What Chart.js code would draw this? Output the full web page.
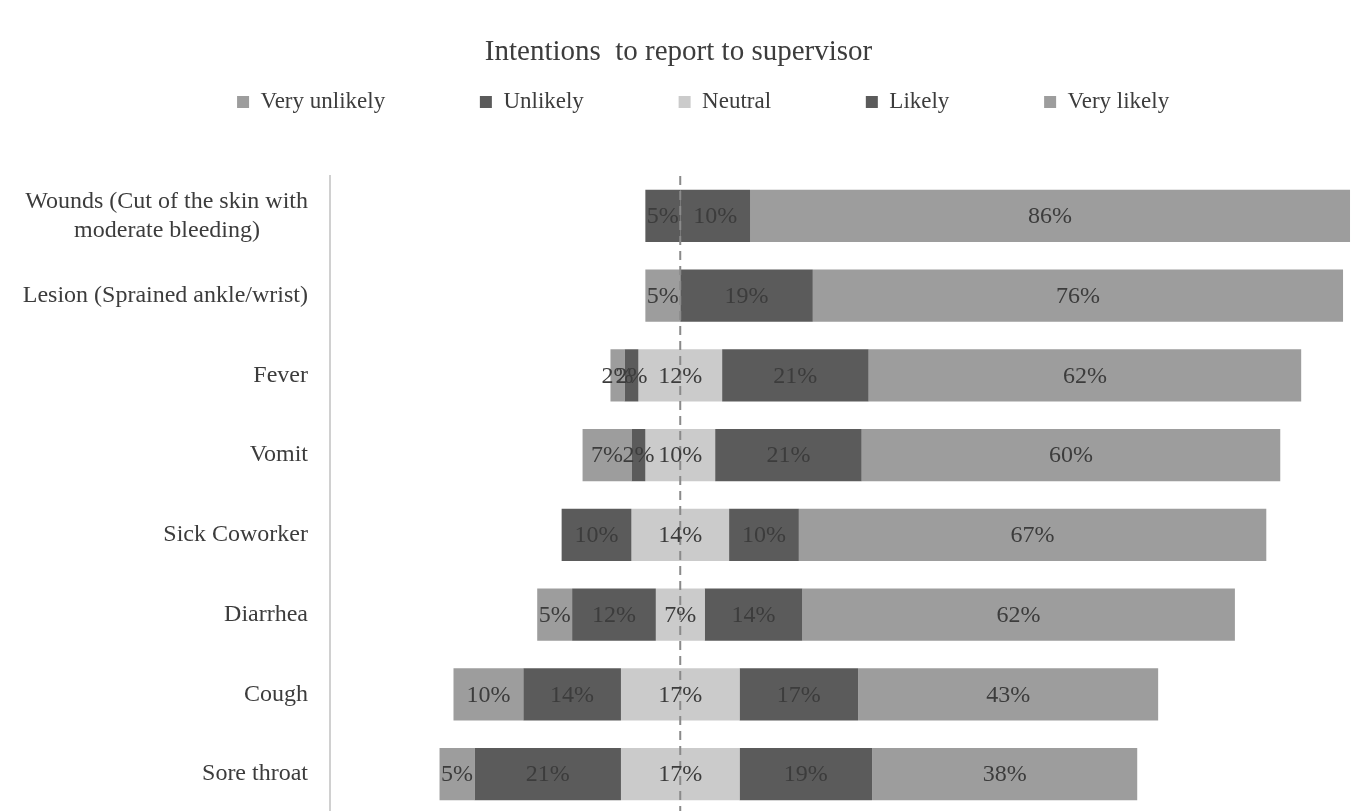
<!DOCTYPE html>
<html>
<head>
<meta charset="utf-8">
<title>Intentions to report to supervisor</title>
<script src="https://cdn.jsdelivr.net/npm/chart.js@4.4.1/dist/chart.umd.min.js"></script>
<style>
    html, body { margin: 0; padding: 0; background: #fff; overflow: hidden; }
    canvas { display: block; }
</style>
</head>
<body>
<canvas id="myChart" width="1357" height="816"></canvas>
<script>
const categories = [
    ["Wounds (Cut of the skin with", "moderate bleeding)        "],
    "Lesion (Sprained ankle/wrist)",
    "Fever",
    "Vomit",
    "Sick Coworker",
    "Diarrhea",
    "Cough",
    "Sore throat",
];
const veryUnlikely = [0, 5, 2, 7, 0, 5, 10, 5];
const unlikely = [5, 0, 2, 2, 10, 12, 14, 21];
const neutral = [0, 0, 12, 10, 14, 7, 17, 17];
const likely = [10, 19, 21, 21, 10, 14, 17, 19];
const veryLikely = [86, 76, 62, 60, 67, 62, 43, 38];

const seriesNames = ["Very unlikely", "Unlikely", "Neutral", "Likely", "Very likely"];
const seriesColors = ["#9d9d9d", "#5b5b5b", "#cbcbcb", "#5b5b5b", "#9d9d9d"];
const series = [veryUnlikely, unlikely, neutral, likely, veryLikely];

const serif = "Liberation Serif";
const textColor = "#3c3c3c";
const legendGap = " ".repeat(13);

// each bar is centred on the middle of the neutral block
const starts = categories.map((c, i) => -(veryUnlikely[i] + unlikely[i] + neutral[i] / 2));

const datasets = series.map((values, s) => ({
    label: seriesNames[s],
    backgroundColor: seriesColors[s],
    borderWidth: 0,
    data: values.map((v, i) => {
        let from = starts[i];
        for (let k = 0; k < s; k++) from += series[k][i];
        return [from, from + v];
    }),
}));

const centerLineAndLabels = {
    id: "centerLineAndLabels",
    afterDatasetsDraw(chart) {
        const ctx = chart.ctx;
        const area = chart.chartArea;
        const x0 = chart.scales.x.getPixelForValue(0);

        ctx.save();
        ctx.strokeStyle = "#8a8a8a";
        ctx.lineWidth = 2;
        ctx.setLineDash([9, 6]);
        ctx.beginPath();
        ctx.moveTo(x0, area.top);
        ctx.lineTo(x0, area.bottom);
        ctx.stroke();
        ctx.restore();

        ctx.save();
        ctx.font = "24px '" + serif + "'";
        ctx.fillStyle = textColor;
        ctx.textAlign = "center";
        ctx.textBaseline = "middle";
        chart.data.datasets.forEach((ds, d) => {
            chart.getDatasetMeta(d).data.forEach((bar, i) => {
                const v = series[d][i];
                if (!v) return;
                const p = bar.getCenterPoint();
                ctx.fillText(v + "%", p.x, p.y + 1);
            });
        });
        ctx.restore();
    },
};

new Chart(document.getElementById("myChart").getContext("2d"), {
    type: "bar",
    data: {
        labels: categories,
        datasets: datasets,
    },
    options: {
        indexAxis: "y",
        responsive: false,
        animation: false,
        devicePixelRatio: 1,
        categoryPercentage: 1,
        barPercentage: 0.655,
        layout: {
            padding: { left: 0, right: 0, top: 0, bottom: 2 },
        },
        plugins: {
            title: {
                display: true,
                text: "Intentions  to report to supervisor",
                color: textColor,
                font: { family: serif, size: 29, weight: "normal" },
                padding: { top: 34.6, bottom: 1.1 },
            },
            legend: {
                display: true,
                position: "top",
                labels: {
                    boxWidth: 12,
                    boxHeight: 12,
                    padding: 20,
                    color: textColor,
                    font: { family: serif, size: 23 },
                    generateLabels: (chart) => {
                        const items = Chart.defaults.plugins.legend.labels.generateLabels(chart);
                        items.forEach((it, i) => {
                            if (i < items.length - 1) it.text += legendGap;
                        });
                        // blank spacer so the row sits a little right of centre
                        items.unshift({
                            text: " ",
                            fillStyle: "rgba(0,0,0,0)",
                            strokeStyle: "rgba(0,0,0,0)",
                            lineWidth: 0,
                            hidden: false,
                        });
                        return items;
                    },
                },
            },
            tooltip: { enabled: false },
        },
        scales: {
            x: {
                position: "top",
                min: -50.2,
                max: 97,
                grid: { display: false, drawTicks: false },
                border: { display: false },
                ticks: { display: false },
                afterFit: (scale) => {
                    scale.height = 52.5;
                },
            },
            y: {
                stacked: true,
                grid: { display: false, drawTicks: false },
                border: { display: true, color: "#d0d0d0", width: 2 },
                ticks: {
                    color: textColor,
                    padding: 22,
                    font: { family: serif, size: 24 },
                },
                afterFit: (scale) => {
                    scale.width = 330;
                    scale.paddingTop = 0;
                    scale.paddingBottom = 0;
                },
            },
        },
    },
    plugins: [centerLineAndLabels],
});
</script>
</body>
</html>
